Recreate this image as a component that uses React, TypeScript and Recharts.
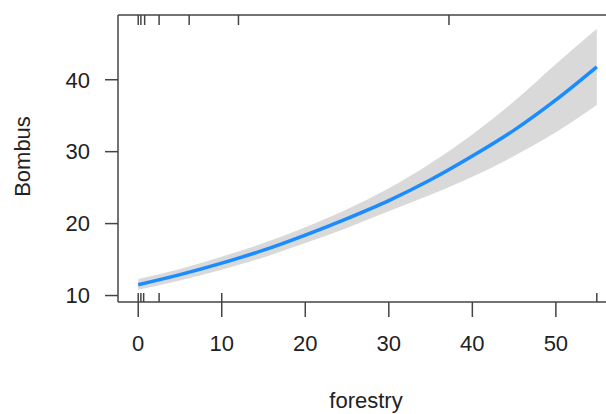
import React from 'react';
import { ComposedChart, Line, Area, Scatter, XAxis, YAxis, ReferenceLine } from 'recharts';

const forestry = [0, 5, 10, 15, 20, 25, 30, 35, 40, 45, 50, 54.9];
const fitValues = [11.5, 12.9, 14.5, 16.3, 18.4, 20.7, 23.2, 26.1, 29.4, 33.0, 37.2, 41.8];
const lowerValues = [10.8, 12.1, 13.6, 15.3, 17.3, 19.4, 21.7, 24.0, 26.5, 29.4, 32.7, 36.5];
const upperValues = [12.3, 13.7, 15.4, 17.3, 19.5, 22.0, 24.9, 28.4, 32.4, 37.0, 42.2, 47.1];
const bottomRug = [0, 0.32, 0.65, 2.5, 10, 54.9];
const topRug = [0, 0.32, 0.77, 2.5, 6.1, 12.0, 37.2];
const xTicks = [0, 10, 20, 30, 40, 50];
const yTicks = [10, 20, 30, 40];

const xDomain: [number, number] = [-2.42, 56.0];
const yDomain: [number, number] = [9.1, 49.0];

const data = forestry.map((x, i) => ({
  x,
  fit: fitValues[i],
  band: [lowerValues[i], upperValues[i]],
}));
const bottomRugData = bottomRug.map((x) => ({ x, y: yDomain[0] }));
const topRugData = topRug.map((x) => ({ x, y: yDomain[1] }));

const AXIS = '#444';
const FONT = '"Liberation Sans", Arial, sans-serif';

const BottomRugShape = (p: any) => (
  <line x1={p.cx} x2={p.cx} y1={p.cy} y2={p.cy - 9} stroke={AXIS} strokeWidth={1.5} />
);
const TopRugShape = (p: any) => (
  <line x1={p.cx} x2={p.cx} y1={p.cy} y2={p.cy + 10} stroke={AXIS} strokeWidth={1.5} />
);

const XLabel = (props: any) => {
  const vb = props.viewBox || {};
  return (
    <text x={(vb.x ?? 118) + (vb.width ?? 488) / 2 + 4} y={408} textAnchor="middle" fontSize={22} fontFamily={FONT} fill="#222">
      forestry
    </text>
  );
};
const YLabel = (props: any) => {
  const vb = props.viewBox || {};
  const cy = (vb.y ?? 15) + (vb.height ?? 287) / 2 - 2;
  return (
    <text x={22} y={cy} transform={`rotate(-90, 22, ${cy})`} textAnchor="middle" dominantBaseline="central" fontSize={22} fontFamily={FONT} fill="#222">
      Bombus
    </text>
  );
};

export default function App() {
  return (
    <div style={{ position: 'absolute', left: 0, top: 0, width: 606, height: 414, background: '#fff' }}>
      <ComposedChart width={606} height={414} data={data} margin={{ top: 15, right: 0, bottom: 0, left: 0 }}>
        <XAxis
          dataKey="x"
          type="number"
          domain={xDomain}
          ticks={xTicks}
          allowDataOverflow
          height={112}
          tickSize={15}
          tickMargin={18}
          stroke={AXIS}
          strokeWidth={1.5}
          tick={{ fill: '#222', fontSize: 22, fontFamily: FONT }}
          label={<XLabel />}
        />
        <YAxis
          type="number"
          domain={yDomain}
          ticks={yTicks}
          allowDataOverflow
          width={118}
          tickSize={13}
          tickMargin={15}
          stroke={AXIS}
          strokeWidth={1.5}
          tick={{ fill: '#222', fontSize: 22, fontFamily: FONT }}
          label={<YLabel />}
        />
        <ReferenceLine y={yDomain[1]} stroke={AXIS} strokeWidth={1.5} />
        <Area
          dataKey="band"
          type="monotone"
          stroke="none"
          fill="#d9d9d9"
          fillOpacity={1}
          isAnimationActive={false}
        />
        <Line
          dataKey="fit"
          type="monotone"
          stroke="#1a8cff"
          strokeWidth={3.5}
          dot={false}
          activeDot={false}
          isAnimationActive={false}
        />
        <Scatter data={bottomRugData} dataKey="y" shape={<BottomRugShape />} isAnimationActive={false} />
        <Scatter data={topRugData} dataKey="y" shape={<TopRugShape />} isAnimationActive={false} />
      </ComposedChart>
    </div>
  );
}
